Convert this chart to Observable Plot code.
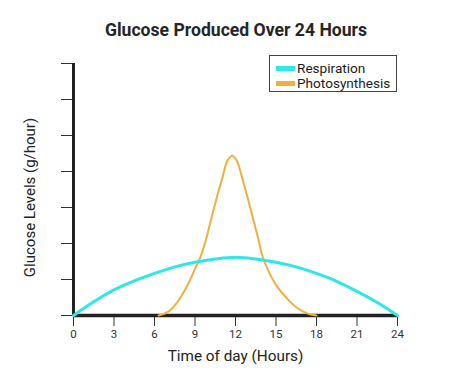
<!DOCTYPE html>
<html>
<head>
<meta charset="utf-8">
<script src="https://cdn.jsdelivr.net/npm/d3@7"></script>
<script src="https://cdn.jsdelivr.net/npm/@observablehq/plot@0.6"></script>
<style>
  body { margin: 0; background: #fff; font-family: Roboto, sans-serif; }
  #wrap { position: relative; width: 450px; height: 383px; }
  #title { position: absolute; left: 11px; top: 0; width: 450px; height: 60px; text-align: center; font: bold 17.6px Roboto, sans-serif; line-height: 60px; color: #262626; }
  #chart { position: absolute; left: 0; top: 50px; }
  #legend { position: absolute; left: 269px; top: 55px; width: 128px; height: 37px; border: 1px solid #444; background: #fff; font: 13.6px Roboto, sans-serif; color: #1c1c1c; box-sizing: border-box; }
  .item { position: absolute; left: 6px; height: 15px; line-height: 15px; white-space: nowrap; }
  .sw { display: inline-block; width: 19px; height: 5px; vertical-align: middle; margin-right: 2px; position: relative; top: -1px; }
</style>
</head>
<body>
<div id="wrap">
  <div id="title">Glucose Produced Over 24 Hours</div>
  <div id="chart"></div>
  <div id="legend"></div>
</div>
<script>
const seriesNames = ["Respiration", "Photosynthesis"];
const seriesColors = ["#30e6e6", "#eeb03f"];

const respHours = [0, 1.5, 3, 4.5, 6, 7.5, 9, 10.5, 12, 13.5, 15, 16.5, 18, 19.5, 21, 22.5, 24];
const respValues = [0, 0.38, 0.71, 0.96, 1.17, 1.35, 1.48, 1.57, 1.62, 1.57, 1.48, 1.35, 1.17, 0.95, 0.67, 0.36, 0];

const photoHours = [6.3, 7, 7.67, 8.5, 9, 9.4, 9.78, 10.4, 11.08, 11.4, 11.76, 12.1, 12.44, 13.1, 13.73, 14.05, 15, 16, 16.6, 17.3, 18];
const photoValues = [0, 0.1, 0.36, 0.88, 1.3, 1.62, 2.06, 2.98, 3.9, 4.3, 4.44, 4.3, 3.9, 2.98, 2.06, 1.59, 0.85, 0.4, 0.2, 0.06, 0];

const xTicks = [0, 3, 6, 9, 12, 15, 18, 21, 24];
const yTicks = [0, 1, 2, 3, 4, 5, 6, 7];
const xLabel = "Time of day (Hours)";
const yLabel = "Glucose Levels (g/hour)";

const resp = respHours.map((h, i) => ({hour: h, value: respValues[i]}));
const photo = photoHours.map((h, i) => ({hour: h, value: photoValues[i]}));

const chart = Plot.plot({
  width: 450,
  height: 333,
  marginTop: 13,
  marginBottom: 68,
  marginLeft: 73,
  marginRight: 53,
  style: {fontFamily: "Roboto, sans-serif", color: "#333", background: "#fff"},
  x: {domain: [0, 24]},
  y: {domain: [0, 7]},
  marks: [
    Plot.axisY({ticks: yTicks, tickSize: 12, tickFormat: () => "", label: null, stroke: "#333"}),
    Plot.axisX({ticks: xTicks, tickSize: 11, tickPadding: 3, fontSize: 11.5, label: null, stroke: "#333", fill: "#333"}),
    Plot.text([xLabel], {frameAnchor: "bottom", dy: 45, fontSize: 15.3, fill: "#222"}),
    Plot.text([yLabel], {frameAnchor: "left", textAnchor: "middle", dx: -43, dy: 8, rotate: -90, fontSize: 15, fill: "#222"}),
    Plot.ruleX([0], {stroke: "#222", strokeWidth: 3}),
    Plot.ruleY([0], {stroke: "#222", strokeWidth: 3.5}),
    Plot.line(photo, {x: "hour", y: "value", stroke: seriesColors[1], strokeWidth: 2, curve: "catmull-rom"}),
    Plot.line(resp, {x: "hour", y: "value", stroke: seriesColors[0], strokeWidth: 3, curve: "catmull-rom"})
  ]
});
document.getElementById("chart").appendChild(chart);

const legend = document.getElementById("legend");
seriesNames.forEach((name, i) => {
  const d = document.createElement("div");
  d.className = "item";
  d.style.top = (5 + i * 15) + "px";
  d.innerHTML = `<span class="sw" style="background:${seriesColors[i]}"></span>${name}`;
  legend.appendChild(d);
});
</script>
</body>
</html>
